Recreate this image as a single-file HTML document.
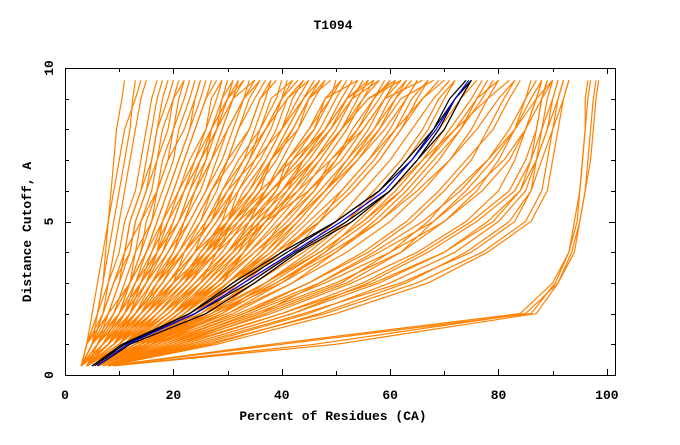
<!DOCTYPE html>
<html><head><meta charset="utf-8"><style>
body{margin:0;background:#fff}
svg text{font-family:"Liberation Mono",monospace;font-weight:bold;fill:#000}
</style></head><body>
<svg id="chart" width="680" height="440" viewBox="0 0 680 440">
<rect width="680" height="440" fill="#fff"/>
<text x="333" y="29" font-size="13" text-anchor="middle">T1094</text>
<g id="series"></g>
<g id="axes"></g>
<text x="333" y="420" font-size="13" text-anchor="middle">Percent of Residues (CA)</text>
<text transform="translate(31,232) rotate(-90)" font-size="13" text-anchor="middle">Distance Cutoff, A</text>
</svg>
<script>
const yLevels=[0.3,1,2,3,4,5,6,7,8,9,9.6];
const xTicks=[0,20,40,60,80,100];
const yTicks=[0,5,10];
const orangeCurves=[
[3,5,6,7,7.5,8,8.5,9,9.5,10.5,11],[3,5,7,8,9,10,11,12,13,14,15],[3,6,8,10,11,12,14,15,16,17,18],
[3,6,9,11,13,14,16,17,19,20,21],[3,7,10,12,14,16,18,20,21,23,24],[3,7,11,14,16,18,20,22,24,26,27],
[3,8,12,15,18,20,22,24,26,28,29],[4,8,13,16,19,22,24,27,29,31,32],[4,9,13,17,20,23,26,28,30,33,34],
[4,9,14,18,22,25,28,30,32,34,36],[4,10,15,19,23,27,30,33,35,37,38],[4,10,16,20,24,28,32,35,38,40,41],
[4,11,17,22,26,30,33,37,40,42,44],[4,11,17,23,27,31,35,38,41,44,46],[5,12,18,24,29,33,37,40,43,46,48],
[5,12,19,25,30,35,39,42,46,49,50],[5,13,20,26,31,36,40,44,48,51,53],[5,13,20,27,33,38,42,46,50,53,55],
[5,14,21,28,34,39,44,48,52,55,57],[5,14,22,29,35,41,46,50,54,57,59],[5,15,23,30,37,42,47,52,56,59,61],
[5,15,23,31,38,44,49,54,58,61,63],[5,16,24,32,39,45,51,56,60,63,65],[5,16,25,33,40,47,53,58,62,65,67],
[4,7,10,13,15,17,19,21,23,24,25],[3,6,10,13,16,19,21,24,27,30,32],[4,8,12,16,21,24,27,30,32,35,37],
[4,9,14,19,24,28,31,34,37,40,43],[5,11,17,22,27,31,35,39,42,45,47],[5,12,19,24,29,33,38,43,47,50,52],
[5,13,21,27,32,37,42,47,51,54,56],[5,14,22,28,34,40,45,50,53,57,60],[4,9,15,21,25,29,34,38,42,45,48],
[4,8,14,20,24,26,29,33,37,41,44],[3,6,9,12,14,15,17,18,20,22,23],[3,5,8,10,12,13,15,16,17,19,20],
[3,4,5,6,7,8,9,10,11,13,14],[3,4,6,7,8,9,10,11,12,12.5,13],[3,7,12,16,20,22,24,26,28,30,31],
[3,5,9,12,15,17,19,21,23,25,26],[4,8,11,14,17,19,22,25,28,29,30],[4,10,16,21,26,29,31,34,36,39,40],
[5,12,18,23,27,30,34,37,40,43,45],[5,13,20,25,30,34,37,41,45,48,51],[5,14,22,28,33,36,40,45,49,53,58],
[5,15,24,31,37,43,48,52,57,61,64],[4,10,14,17,20,22,25,27,29,31,33],[4,9,12,15,17,20,22,25,28,31,35],
[3,6,11,13,17,18,21,23,26,27,29],[4,7,12,14,18,21,23,26,27,30,33],[4,9,13,18,21,25,27,31,34,36,39],
[4,10,15,20,22,27,29,32,36,38,42],[5,11,16,22,25,30,32,36,39,41,45],[5,12,17,23,28,31,36,38,43,45,49],
[5,12,20,25,31,34,39,41,46,48,54],[5,13,21,26,32,35,41,44,49,52,57],[5,14,21,29,33,38,43,47,51,56,62],
[5,15,22,30,36,40,46,49,55,59,66],[5,15,24,30,38,43,48,53,58,62,68],[5,16,26,32,40,46,52,57,61,66,70],
[4,11,18,24,30,36,43,49,54,58,60],[4,10,17,22,28,34,40,46,51,55,58],[4,9,16,21,27,33,38,43,48,52,56],
[4,9,15,20,26,31,37,41,45,49,51],[3,8,14,19,24,30,35,38,41,44,46],[3,8,13,17,22,27,31,34,37,40,42],
[3,7,13,17,21,24,27,30,34,36,38],[3,6,11,15,19,23,26,29,31,33,35],[3,5,10,14,18,21,23,25,27,29,31],
[3,4,8,12,15,18,20,22,24,26,28],[3,4,7,9,11,14,17,19,22,24,25],[3,5,7,9,12,13,15,17,18,20,22],
[3,4,6,8,10,11,13,14,15,16,17],[3,5,7,9,11,12,14,16,17,18,19],[4,6,10,12,13,16,17,19,20,21,22],
[4,7,11,15,17,21,24,27,30,33,36],[4,8,13,18,22,26,30,35,40,44,47],[4,9,15,20,26,32,38,44,49,53,55],
[5,12,18,25,31,37,45,51,55,59,62],[5,13,20,28,35,42,48,54,59,63,65],[5,14,23,31,39,47,53,58,62,66,69],
[5,16,27,35,43,50,55,60,64,68,71],[5,17,29,37,45,52,57,62,66,69,72],[5,15,26,34,42,47,51,56,61,64,67],
[5,14,24,30,36,42,48,53,57,60,63],[5,13,22,29,33,37,41,46,51,56,61],[4,11,19,25,28,32,36,42,48,52,54],
[5,12,25,35,44,52,58,63,67,70,72],[6,14,28,38,47,55,61,66,70,73,75],[6,15,30,42,52,60,66,71,75,78,80],
[6,16,32,45,56,64,70,75,78,81,83],[7,18,35,50,62,70,76,80,83,85,86],[7,20,38,53,65,74,80,83,85,87,88],
[7,22,40,57,70,79,84,86,87,88,89],[8,24,44,62,75,83,86,87,88,89,90],[8,25,45,60,72,80,85,87,89,90,91],
[8,26,48,65,77,85,88,89,90,91,92],[7,20,36,47,57,66,73,78,82,85,87],[6,17,31,42,50,58,64,69,73,77,79],
[6,15,28,40,50,57,63,68,73,76,78],[7,21,40,55,66,75,82,85,87,88,89],[8,23,42,58,70,78,84,87,89,91,92],
[7,19,34,48,60,70,77,82,85,87,88],[6,13,26,37,47,55,62,67,71,75,77],[8,28,50,67,78,86,89,90,91,92,93],
[7,21,37,52,62,68,74,79,83,86,88],[6,18,33,45,55,63,69,74,79,82,84],
[6,16,30,40,48,54,60,66,72,78,82],[7,19,36,51,60,67,72,78,83,87,90],[7,23,42,56,67,76,83,86,88,90,91],
[8,27,47,63,74,82,86,88,90,92,93],[6,17,33,47,58,68,75,81,85,88,90],[6,14,27,39,49,58,65,71,76,80,83],
[5,13,27,37,46,53,60,65,69,73,76],[6,15,29,39,48,56,62,67,72,76,80],
[8,40,86,90.5,93,94,95,95.5,96,96.5,97],[9,50,87,91,94,95,96,96.5,97,97.5,98],
[8,38,84,90,93,94.5,95,95.5,96,96,96.5],[9,46,85,91,93.5,95,96,97,97.5,98,98.5]
];
const blackCurves=[
[5,11,23,32,41,50,58,63,68,71,74],[5.5,11,24,34,42.5,52,60,65,70,73,75],
[5,10.5,23,31,40,50,58,64,68,72,75],[6,12,26,35,43,53,60,65,69,72,75]
];
const blueCurve=[6,11.5,24,33,42,51,59,64,68.5,72,74.5];

const L=65,R=615,T=68,B=375,XMAX=101.5;
const sx=v=>L+v*(R-L)/XMAX, sy=v=>B-v*(B-T)/10;
const NS="http://www.w3.org/2000/svg";
const sg=document.getElementById('series'), ag=document.getElementById('axes');
function line(xs,color,name,w){
  const p=document.createElementNS(NS,'polyline');
  p.setAttribute('points',xs.map((x,i)=>sx(x).toFixed(1)+','+sy(yLevels[i]).toFixed(1)).join(' '));
  p.setAttribute('fill','none');p.setAttribute('stroke',color);p.setAttribute('stroke-width',w);
  
  
  sg.appendChild(p);
}
orangeCurves.forEach(c=>line(c,'#ff8000','model-curve','1.2'));
blackCurves.forEach(c=>line(c,'#000','reference-curve','1.2'));
line(blueCurve,'#0000ff','highlight-curve','1.2');
function seg(x1,y1,x2,y2){const l=document.createElementNS(NS,'line');l.setAttribute('x1',x1);l.setAttribute('y1',y1);l.setAttribute('x2',x2);l.setAttribute('y2',y2);l.setAttribute('stroke','#000');l.setAttribute('stroke-width','1');ag.appendChild(l);return l;}
const fr=document.createElementNS(NS,'rect');
fr.setAttribute('x',L+0.5);fr.setAttribute('y',T+0.5);fr.setAttribute('width',R-L);fr.setAttribute('height',B-T);
fr.setAttribute('fill','none');fr.setAttribute('stroke','#000');


ag.appendChild(fr);
for(let v=0;v<=100;v+=10){const x=Math.round(sx(v))+0.5,len=v%20===0?6:4;seg(x,B,x,B-len);seg(x,T,x,T+len);}
for(let v=0;v<=10;v++){const y=Math.round(sy(v))+0.5,len=v%5===0?6:4;seg(L,y,L+len,y);seg(R,y,R-len,y);}
xTicks.forEach(v=>{const t=document.createElementNS(NS,'text');t.setAttribute('x',sx(v));t.setAttribute('y',B+24);t.setAttribute('font-size','13');t.setAttribute('text-anchor','middle');t.textContent=v;


ag.appendChild(t);});
yTicks.forEach(v=>{const t=document.createElementNS(NS,'text');t.setAttribute('transform','translate('+(L-12)+','+sy(v)+') rotate(-90)');t.setAttribute('font-size','13');t.setAttribute('text-anchor','middle');t.textContent=v;


ag.appendChild(t);});
</script>
</body></html>
